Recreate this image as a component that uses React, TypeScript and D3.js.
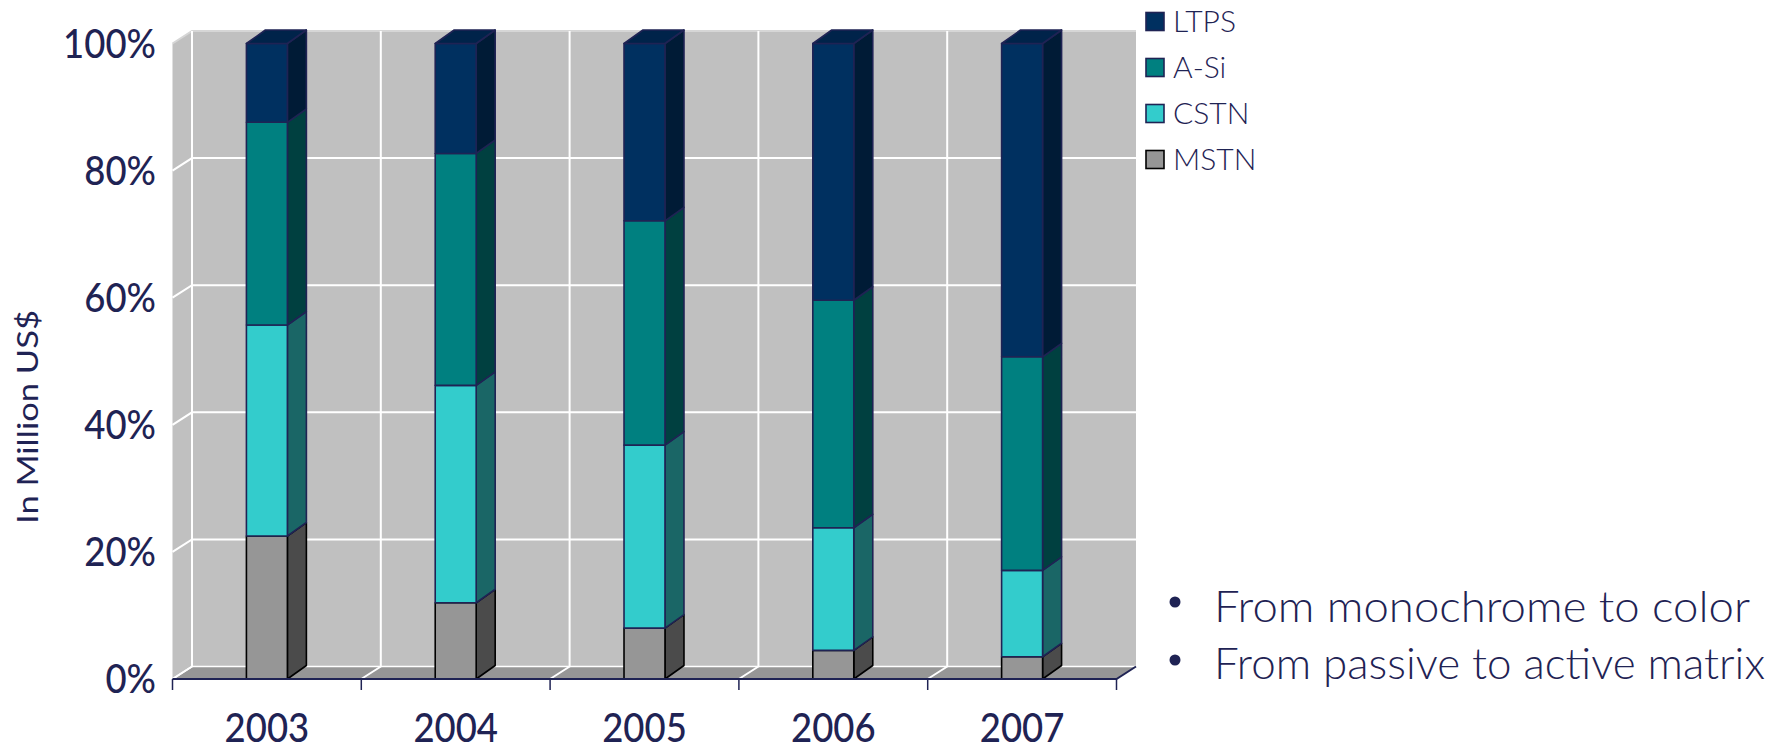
import React from "react";
import * as d3 from "d3";

const years = ["2003", "2004", "2005", "2006", "2007"];
const seriesNames = ["MSTN", "CSTN", "A-Si", "LTPS"];
const mstn = [22.5, 12, 8, 4.5, 3.5];
const cstn = [33.2, 34.2, 28.8, 19.3, 13.6];
const aSi = [31.9, 36.5, 35.3, 35.8, 33.6];
const ltps = [12.4, 17.3, 27.9, 40.4, 49.3];
const percentTicks = [0, 20, 40, 60, 80, 100];
const bullets = ["From monochrome to color", "From passive to active matrix"];
const bulletWidths = [536, 551];

const frontFill = ["#969696", "#33CCCC", "#008080", "#003060"];
const sideFill = ["#4B4B4B", "#1A6666", "#004040", "#001B36"];
const edge = ["#000000", "#1F2354", "#1F2354", "#1F2354"];
const ink = "#1F2354";
const font = "Lato, 'Open Sans', sans-serif";

const valuesBySeries = [mstn, cstn, aSi, ltps];
const rows = years.map((year, i) => {
  const row: Record<string, number | string> = { year };
  seriesNames.forEach((s, k) => (row[s] = valuesBySeries[k][i]));
  return row;
});
const stacked = d3.stack().keys(seriesNames)(rows as any);

const x = d3.scaleBand<string>().domain(years).range([172.5, 1116.5]);
const y = d3.scaleLinear().domain([0, 100]).range([679, 43.5]);
const barW = x.bandwidth() * 0.217;
const dx = 19.5;
const dy = 12.5;
const barDx = 19;
const barDy = 13.5;
const narrow = 0.89;

const poly = (pts: [number, number][]) => d3.line()(pts)! + "Z";

export default function App() {
  const x0 = x.range()[0];
  const x1 = x.range()[1];
  const y0 = y(0);
  const y1 = y(100);
  return (
    <svg width={1786} height={747} style={{ position: "absolute", left: 0, top: 0, display: "block" }} fontFamily={font}>
      <rect width={1786} height={747} fill="#fff" />
      {/* walls */}
      <path d={poly([[x0 + dx, y1 - dy], [x1 + dx, y1 - dy], [x1 + dx, y0 - dy], [x0 + dx, y0 - dy]])} fill="#C0C0C0" />
      <path d={poly([[x0, y1], [x0 + dx, y1 - dy], [x0 + dx, y0 - dy], [x0, y0]])} fill="#C0C0C0" />
      <path d={poly([[x0, y0], [x0 + dx, y0 - dy], [x1 + dx, y0 - dy], [x1, y0]])} fill="#969696" />
      {/* gridlines */}
      {percentTicks.map((t) => (
        <path
          key={t}
          d={d3.line()([[x0, y(t)], [x0 + dx, y(t) - dy], [x1 + dx, y(t) - dy]])!}
          fill="none"
          stroke={t === 100 ? "#D6D6D6" : "#fff"}
          strokeWidth={t === 0 ? 1.5 : 2}
        />
      ))}
      {years.map((yr) => (
        <path
          key={yr}
          d={d3.line()([[x(yr)! + dx, y1 - dy], [x(yr)! + dx, y0 - dy], [x(yr)!, y0]])!}
          fill="none"
          stroke="#fff"
          strokeWidth={2}
        />
      ))}
      {/* bars */}
      {years.map((yr, i) => {
        const left = x(yr)! + (x.bandwidth() - barW) / 2;
        const right = left + barW;
        return (
          <g key={yr} strokeLinejoin="round">
            {stacked.map((s, k) => {
              const low = y(s[i][0]);
              const high = y(s[i][1]);
              return (
                <g key={s.key} stroke={edge[k]} strokeWidth={1.6}>
                  <path
                    d={poly([[right, low], [right + barDx, low - barDy], [right + barDx, high - barDy], [right, high]])}
                    fill={sideFill[k]}
                  />
                  <rect x={left} y={high} width={barW} height={low - high} fill={frontFill[k]} />
                  {k === stacked.length - 1 && (
                    <path
                      d={poly([[left, high], [left + barDx, high - barDy], [right + barDx, high - barDy], [right, high]])}
                      fill="#00234A"
                    />
                  )}
                </g>
              );
            })}
          </g>
        );
      })}
      {/* axis */}
      <path d={d3.line()([[x0, y0], [x1, y0], [x1 + dx, y0 - dy]])!} fill="none" stroke={ink} strokeWidth={2} />
      {[...years.map((yr) => x(yr)!), x1].map((t) => (
        <line key={t} x1={t} x2={t} y1={y0} y2={y0 + 11} stroke={ink} strokeWidth={1.5} />
      ))}
      {/* labels */}
      {percentTicks.map((t) => (
        <text
          key={t}
          transform={`translate(156,${y(t) + 14}) scale(${narrow},1)`}
          textAnchor="end"
          fontSize={41}
          fill={ink}
          fontWeight={500}
        >
          {t}%
        </text>
      ))}
      {years.map((yr) => (
        <text
          key={yr}
          transform={`translate(${x(yr)! + x.bandwidth() / 2},741.5) scale(${narrow},1)`}
          textAnchor="middle"
          fontSize={41}
          fill={ink}
          fontWeight={500}
        >
          {yr}
        </text>
      ))}
      <text
        transform="translate(38,524) rotate(-90)"
        fontSize={29}
        fill={ink}
        textLength={214}
        lengthAdjust="spacingAndGlyphs"
      >
        In Million US$
      </text>
      {/* legend */}
      <rect x={1136.5} y={0} width={190} height={183} fill="#fff" />
      {[...seriesNames].reverse().map((name, j) => {
        const k = seriesNames.length - 1 - j;
        const top = 12.5 + j * 46;
        return (
          <g key={name}>
            <rect x={1146} y={top} width={18} height={18} fill={frontFill[k]} stroke={edge[k]} strokeWidth={1.6} />
            <text x={1173} y={top + 19.5} fontSize={30} fontWeight={300} fill={ink}>
              {name}
            </text>
          </g>
        );
      })}
      {/* notes */}
      {bullets.map((b, j) => (
        <g key={b}>
          <circle cx={1175} cy={602 + j * 58} r={5.5} fill={ink} />
          <text
            x={1214}
            y={621.5 + j * 57.5}
            fontSize={44}
            fontWeight={300}
            fill={ink}
            textLength={bulletWidths[j]}
            lengthAdjust="spacingAndGlyphs"
          >
            {b}
          </text>
        </g>
      ))}
    </svg>
  );
}
